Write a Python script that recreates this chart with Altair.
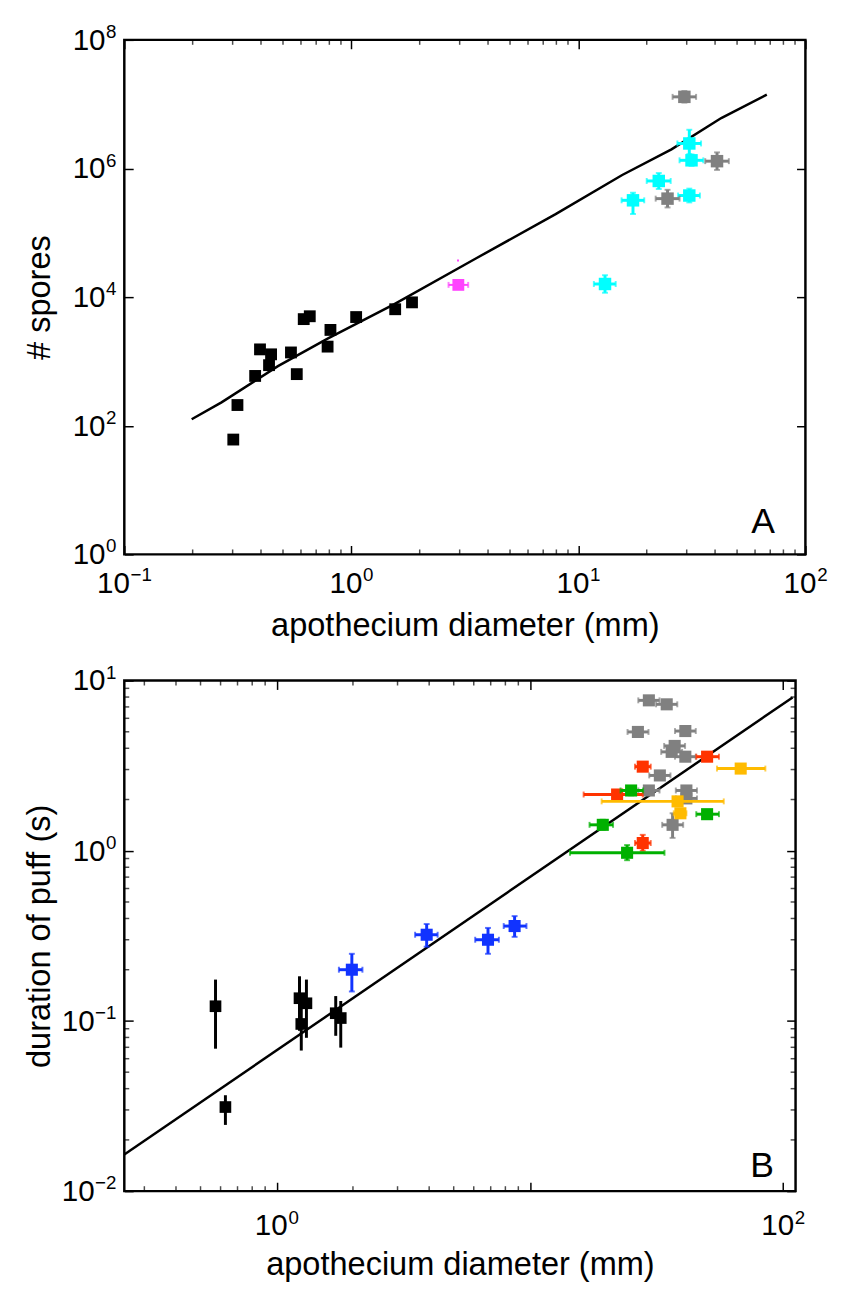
import altair as alt
import pandas as pd

FONT = "Liberation Sans"

# ---------------- Panel A : number of spores ----------------
a_line_x = [0.198, 0.268, 0.475, 0.786, 1.54, 3.55, 7.94, 15.6, 25.7, 42.6, 67.6]
a_line_y = [126, 231, 845, 2260, 7710, 4.02e4, 1.95e5, 7.93e5, 1.98e6, 6.08e6, 1.41e7]

a_black_x = [0.302, 0.315, 0.377, 0.396, 0.443, 0.434, 0.542, 0.575, 0.617, 0.656, 0.786, 0.809, 1.05, 1.56, 1.85]
a_black_y = [61, 210, 595, 1540, 1290, 875, 1380, 635, 4550, 5040, 1700, 3090, 4900, 6480, 8290]

a_pink_x = [2.96]
a_pink_y = [1.55e4]
a_pink_xlo = [2.68]
a_pink_xhi = [3.27]
a_pinkdot_x = [2.95]
a_pinkdot_y = [3.7e4]

a_cyan_x = [30.8, 31.5, 22.6, 17.4, 30.8, 13.1]
a_cyan_y = [2.45e6, 1.34e6, 6.4e5, 3.2e5, 3.8e5, 1.6e4]
a_cyan_xlo = [27.3, 27.9, 20.0, 15.5, 27.5, 11.7]
a_cyan_xhi = [34.7, 35.5, 25.5, 19.5, 34.3, 14.6]
a_cyan_ylo = [1.67e6, 1.1e6, 4.8e5, 1.96e5, 2.97e5, 1.17e4]
a_cyan_yhi = [4.0e6, 1.65e6, 8.5e5, 4.2e5, 4.86e5, 2.19e4]

a_gray_x = [29.3, 40.8, 24.7]
a_gray_y = [1.3e7, 1.3e6, 3.4e5]
a_gray_xlo = [26.0, 36.2, 21.9]
a_gray_xhi = [33.0, 46.0, 27.9]
a_gray_ylo = [1.06e7, 9.5e5, 2.48e5]
a_gray_yhi = [1.6e7, 1.78e6, 4.66e5]

a_xmajor = [0.1, 1, 10, 100]
a_xminor = [0.2, 0.3, 0.4, 0.5, 0.6, 0.7, 0.8, 0.9,
            2, 3, 4, 5, 6, 7, 8, 9,
            20, 30, 40, 50, 60, 70, 80, 90]
a_xlabels = {0.1: "−1", 1: "0", 10: "1", 100: "2"}
a_ymajor = [1, 100, 10000, 1000000, 100000000]
a_yminor = []
a_ylabels = {1: "0", 100: "2", 10000: "4", 1000000: "6", 100000000: "8"}

# ---------------- Panel B : duration of puff ----------------
b_line_x = [0.25, 109]
b_line_y = [0.0164, 7.96]

b_black_x = [0.573, 0.627, 1.23, 1.31, 1.25, 1.71, 1.79]
b_black_y = [0.122, 0.0312, 0.136, 0.127, 0.096, 0.111, 0.104]
b_black_ylo = [0.0687, 0.0245, 0.0875, 0.0796, 0.067, 0.0818, 0.0697]
b_black_yhi = [0.175, 0.0366, 0.183, 0.175, 0.122, 0.140, 0.131]

b_blue_x = [1.98, 3.91, 6.83, 8.70]
b_blue_y = [0.200, 0.321, 0.300, 0.361]
b_blue_xlo = [1.76, 3.52, 6.08, 7.88]
b_blue_xhi = [2.18, 4.32, 7.54, 9.69]
b_blue_ylo = [0.149, 0.273, 0.248, 0.312]
b_blue_yhi = [0.248, 0.371, 0.352, 0.413]

b_gray_x = [29.5, 34.7, 26.7, 41.1, 37.3, 36.3, 41.1, 32.6, 29.5, 41.5, 41.5, 36.6]
b_gray_y = [7.65, 7.25, 4.99, 5.05, 4.13, 3.81, 3.57, 2.77, 2.26, 2.26, 2.03, 1.42]
b_gray_xlo = [26.8, 31.5, 24.3, 37.4, 33.9, 33.0, 37.4, 29.6, 26.8, 37.7, 37.7, 33.3]
b_gray_xhi = [32.5, 38.2, 29.4, 45.2, 41.0, 39.9, 45.2, 35.9, 32.5, 45.7, 45.7, 40.3]
b_gray_ylo = [7.25, 6.87, 4.73, 4.79, 3.92, 3.61, 3.38, 2.63, 2.14, 2.14, 1.92, 1.19]
b_gray_yhi = [8.07, 7.65, 5.26, 5.33, 4.36, 4.02, 3.77, 2.92, 2.38, 2.38, 2.14, 1.66]

b_red_x = [50.1, 27.9, 22.1, 27.9]
b_red_y = [3.57, 3.12, 2.14, 1.11]
b_red_xlo = [45.4, 26.0, 16.3, 26.0]
b_red_xhi = [55.8, 30.0, 27.9, 30.0]
b_red_ylo = [3.40, 2.95, 2.04, 1.00]
b_red_yhi = [3.75, 3.30, 2.25, 1.24]

b_green_x = [25.1, 19.4, 50.1, 24.2]
b_green_y = [2.26, 1.42, 1.64, 0.973]
b_green_xlo = [22.8, 17.2, 45.4, 14.4]
b_green_xhi = [28.0, 21.3, 55.8, 34.0]
b_green_ylo = [2.12, 1.33, 1.55, 0.88]
b_green_yhi = [2.40, 1.52, 1.73, 1.08]

b_orange_x = [68.0, 38.3, 39.3]
b_orange_y = [3.04, 1.95, 1.66]
b_orange_xlo = [54.8, 19.2, 37.0]
b_orange_xhi = [85.1, 58.3, 41.5]
b_orange_ylo = [2.95, 1.88, 1.58]
b_orange_yhi = [3.13, 2.02, 1.74]

b_xmajor = [1, 10, 100]
b_xminor = [0.3, 0.4, 0.5, 0.6, 0.7, 0.8, 0.9, 2, 3, 4, 5, 6, 7, 8, 9]
b_xlabels = {1: "0", 100: "2"}
b_ymajor = [0.01, 0.1, 1, 10]
b_yminor = [0.02, 0.03, 0.04, 0.05, 0.06, 0.07, 0.08, 0.09,
            0.2, 0.3, 0.4, 0.5, 0.6, 0.7, 0.8, 0.9,
            2, 3, 4, 5, 6, 7, 8, 9]
b_ylabels = {0.01: "−2", 0.1: "−1", 1: "0", 10: "1"}

MAJ = 9
MINR = 5
BASE_FS = 30
SUP_FS = 19
TITLE_FS = 33
BASE_W = 0.556 * BASE_FS * 2


def sup_width(e):
    w = 0.0
    for ch in e:
        w += 0.584 * SUP_FS if ch == "−" else 0.556 * SUP_FS
    return w


def axis(orient, ticks, title=None, title_pad=10):
    kw = dict(orient=orient, values=ticks, tickSize=MAJ, offset=-MAJ,
              domain=False, grid=False, tickColor="black", tickWidth=1.5,
              labels=False)
    if title is None:
        kw.update(title=None)
    else:
        kw.update(title=title, titleFont=FONT, titleFontSize=TITLE_FS,
                  titleFontWeight="normal", titleColor="black", titlePadding=title_pad)
    return alt.Axis(**kw)


def text_layer(df, field, enc, fs, align, dx=0, dy=0):
    return alt.Chart(df).mark_text(font=FONT, fontSize=fs, align=align, baseline="middle",
                                   dx=dx, dy=dy, color="black").encode(text=f"{field}:N", **enc)


def make_panel(xdom, ydom, xmajor, xminor, xlabels, ymajor, yminor, ylabels, xtitle, ytitle,
               line_x, line_y, groups, letter, width, height,
               xlab_off, xtitle_pad, letter_dx, letter_dy):
    xs = alt.Scale(type="log", domain=xdom, nice=False)
    ys = alt.Scale(type="log", domain=ydom, nice=False)
    line_df = pd.DataFrame({"x": line_x, "y": line_y})

    base_line = alt.Chart(line_df).mark_line(color="black", strokeWidth=2.5, clip=True).encode(
        x=alt.X("x:Q", scale=xs, axis=axis("bottom", xmajor, xtitle, xtitle_pad)),
        y=alt.Y("y:Q", scale=ys, axis=axis("left", ymajor, ytitle, 68)),
    )
    box = alt.Chart(line_df).mark_point(opacity=0).encode(
        x=alt.X("x:Q", scale=xs, axis=axis("top", xmajor)),
        y=alt.Y("y:Q", scale=ys, axis=axis("right", ymajor)),
    )
    layers = [base_line, box]

    # minor ticks (inward, shorter than major ones)
    if xminor:
        mdf = pd.DataFrame({"v": xminor})
        for ypos in (height - MINR / 2, MINR / 2):
            layers.append(alt.Chart(mdf).mark_tick(orient="vertical", size=MINR, thickness=1.5,
                                                   color="black").encode(
                x=alt.X("v:Q", scale=xs, axis=None), y=alt.value(ypos)))
    if yminor:
        mdf = pd.DataFrame({"v": yminor})
        for xpos in (MINR / 2, width - MINR / 2):
            layers.append(alt.Chart(mdf).mark_tick(orient="horizontal", size=MINR, thickness=1.5,
                                                   color="black").encode(
                y=alt.Y("v:Q", scale=ys, axis=None), x=alt.value(xpos)))

    # tick labels written as 10 with a raised exponent
    for v, e in xlabels.items():
        ew = sup_width(e)
        df = pd.DataFrame({"v": [v], "b": ["10"], "e": [e]})
        enc = dict(x=alt.X("v:Q", scale=xs, axis=None), y=alt.value(height + xlab_off))
        layers.append(text_layer(df, "b", enc, BASE_FS, "center", dx=-(ew + 0.5) / 2))
        layers.append(text_layer(df, "e", enc, SUP_FS, "left", dx=BASE_W / 2 + 0.5 - ew / 2, dy=-9))
    for v, e in ylabels.items():
        ew = sup_width(e)
        df = pd.DataFrame({"v": [v], "b": ["10"], "e": [e]})
        layers.append(text_layer(df, "b", dict(y=alt.Y("v:Q", scale=ys, axis=None),
                                               x=alt.value(-8 - ew - 0.5)), BASE_FS, "right", dy=1))
        layers.append(text_layer(df, "e", dict(y=alt.Y("v:Q", scale=ys, axis=None),
                                               x=alt.value(-8 - ew)), SUP_FS, "left", dy=-8))

    for g in groups:
        df = pd.DataFrame({k: v for k, v in g.items() if isinstance(v, list)})
        col = g["color"]
        bw = g.get("bar", 2)
        cap = g.get("cap", False)
        if "xlo" in df:
            layers.append(alt.Chart(df).mark_rule(color=col, strokeWidth=bw).encode(
                x=alt.X("xlo:Q", scale=xs, axis=None), x2="xhi:Q",
                y=alt.Y("y:Q", scale=ys, axis=None)))
            if cap:
                for f in ("xlo", "xhi"):
                    layers.append(alt.Chart(df).mark_tick(orient="vertical", size=6, thickness=2,
                                                          color=col).encode(
                        x=alt.X(f"{f}:Q", scale=xs, axis=None),
                        y=alt.Y("y:Q", scale=ys, axis=None)))
        if "ylo" in df:
            layers.append(alt.Chart(df).mark_rule(color=col, strokeWidth=bw).encode(
                x=alt.X("x:Q", scale=xs, axis=None),
                y=alt.Y("ylo:Q", scale=ys, axis=None), y2="yhi:Q"))
            if cap:
                for f in ("ylo", "yhi"):
                    layers.append(alt.Chart(df).mark_tick(orient="horizontal", size=6, thickness=2,
                                                          color=col).encode(
                        x=alt.X("x:Q", scale=xs, axis=None),
                        y=alt.Y(f"{f}:Q", scale=ys, axis=None)))
        layers.append(alt.Chart(df).mark_square(color=col, opacity=1, size=g.get("size", 150)).encode(
            x=alt.X("x:Q", scale=xs, axis=None),
            y=alt.Y("y:Q", scale=ys, axis=None)))

    txt = alt.Chart(pd.DataFrame({"t": [letter]})).mark_text(
        font=FONT, fontSize=36, align="right", baseline="alphabetic", color="black"
    ).encode(text="t:N", x=alt.value(width - letter_dx), y=alt.value(height - letter_dy))
    layers.append(txt)
    return alt.layer(*layers).resolve_axis(x="independent", y="independent").properties(
        width=width, height=height)


groups_a = [
    dict(color="black", x=a_black_x, y=a_black_y, size=144),
    dict(color="#FF44FF", x=a_pink_x, y=a_pink_y, xlo=a_pink_xlo, xhi=a_pink_xhi, size=144, cap=True),
    dict(color="#FF44FF", x=a_pinkdot_x, y=a_pinkdot_y, size=4),
    dict(color="#00FFFF", x=a_cyan_x, y=a_cyan_y, xlo=a_cyan_xlo, xhi=a_cyan_xhi,
         ylo=a_cyan_ylo, yhi=a_cyan_yhi, size=160, bar=3, cap=True),
    dict(color="#808080", x=a_gray_x, y=a_gray_y, xlo=a_gray_xlo, xhi=a_gray_xhi,
         ylo=a_gray_ylo, yhi=a_gray_yhi, size=160, bar=3, cap=True),
]

groups_b = [
    dict(color="black", x=b_black_x, y=b_black_y, ylo=b_black_ylo, yhi=b_black_yhi, size=140, bar=3),
    dict(color="#1133FF", x=b_blue_x, y=b_blue_y, xlo=b_blue_xlo, xhi=b_blue_xhi,
         ylo=b_blue_ylo, yhi=b_blue_yhi, size=150, bar=3, cap=True),
    dict(color="#808080", x=b_gray_x, y=b_gray_y, xlo=b_gray_xlo, xhi=b_gray_xhi,
         ylo=b_gray_ylo, yhi=b_gray_yhi, size=150, bar=3, cap=True),
    dict(color="#FF3300", x=b_red_x, y=b_red_y, xlo=b_red_xlo, xhi=b_red_xhi,
         ylo=b_red_ylo, yhi=b_red_yhi, size=150, bar=3, cap=True),
    dict(color="#00B000", x=b_green_x, y=b_green_y, xlo=b_green_xlo, xhi=b_green_xhi,
         ylo=b_green_ylo, yhi=b_green_yhi, size=150, bar=3, cap=True),
    dict(color="#FFBB00", x=b_orange_x, y=b_orange_y, xlo=b_orange_xlo, xhi=b_orange_xhi,
         ylo=b_orange_ylo, yhi=b_orange_yhi, size=150, bar=3, cap=True),
]

panel_a = make_panel([0.1, 100], [1, 1e8], a_xmajor, a_xminor, a_xlabels,
                     a_ymajor, a_yminor, a_ylabels,
                     "apothecium diameter (mm)", "# spores",
                     a_line_x, a_line_y, groups_a, "A", 691, 522,
                     xlab_off=30, xtitle_pad=56, letter_dx=31, letter_dy=22)
panel_b = make_panel([0.25, 112], [0.01, 10], b_xmajor, b_xminor, b_xlabels,
                     b_ymajor, b_yminor, b_ylabels,
                     "apothecium diameter (mm)", "duration of puff (s)",
                     b_line_x, b_line_y, groups_b, "B", 681, 518,
                     xlab_off=36, xtitle_pad=58, letter_dx=22, letter_dy=14)

chart = alt.vconcat(panel_a, panel_b, spacing=18).properties(
    padding={"left": 15, "top": 4, "right": 5, "bottom": 0},
    background="white",
).configure_view(stroke="black", strokeWidth=2.5)

chart.save("out.html", embed_options={"renderer": "svg", "actions": False})
